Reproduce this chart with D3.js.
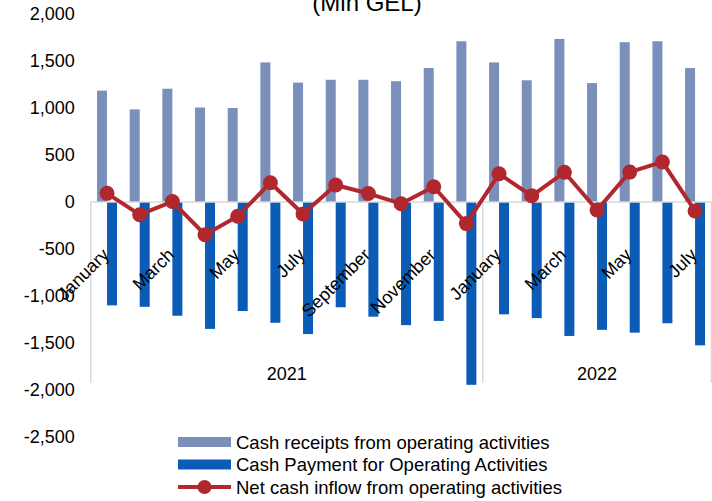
<!DOCTYPE html>
<html>
<head>
<meta charset="utf-8">
<script src="https://cdn.jsdelivr.net/npm/d3@7"></script>
<style>
  html, body { margin: 0; padding: 0; background: #ffffff; }
  svg { display: block; font-family: "Liberation Sans", Arial, sans-serif; }
</style>
</head>
<body>
<svg id="chart" width="712" height="501"></svg>
<script>
const months = ["January", "February", "March", "April", "May", "June", "July", "August",
    "September", "October", "November", "December",
    "January", "February", "March", "April", "May", "June", "July"];
const years = ["2021", "2022"];
const yearLengths = [12, 7];

const receipts = [1185, 985, 1205, 1005, 1000, 1485, 1270, 1300, 1300, 1285, 1425, 1710,
    1485, 1295, 1735, 1265, 1700, 1710, 1425];
const payments = [-1100, -1115, -1210, -1350, -1160, -1285, -1405, -1120, -1220, -1310, -1265, -1945,
    -1195, -1235, -1425, -1360, -1390, -1290, -1525];
const netInflow = [92, -135, 5, -348, -152, 205, -128, 181, 90, -18, 162, -230,
    300, 66, 316, -85, 318, 426, -95];

const yTicks = [2000, 1500, 1000, 500, 0, -500, -1000, -1500, -2000, -2500];

const seriesNames = ["Cash receipts from operating activities",
    "Cash Payment for Operating Activities",
    "Net cash inflow from operating activities"];

const colReceipts = "#7b8fbb";
const colPayments = "#0a5cb6";
const colNet = "#b0282d";
const gridGray = "#d9d9d9";

const svg = d3.select("#chart");

const plotLeft = 90.7, plotRight = 711.4;
const plotTop = 14, plotBottom = 437;

const x = d3.scaleBand()
    .domain(d3.range(months.length))
    .range([plotLeft, plotRight])
    .padding(0);

const sub = d3.scaleBand()
    .domain(["receipts", "payments"])
    .range([x.bandwidth() / 2 - 10, x.bandwidth() / 2 + 10]);

const y = d3.scaleLinear()
    .domain([-2500, 2000])
    .range([plotBottom, plotTop]);

// title (partly cut off at the top, as in the source)
svg.append("text")
    .attr("x", 367)
    .attr("y", 11)
    .attr("text-anchor", "middle")
    .attr("font-size", 24)
    .attr("fill", "#000")
    .text("(Mln GEL)");

// y axis labels
const yAxis = d3.axisLeft(y)
    .tickValues(yTicks)
    .tickSize(0)
    .tickPadding(16)
    .tickFormat(d => d3.format(",")(d).replace("\u2212", "-"));

svg.append("g")
    .attr("transform", `translate(${plotLeft},0)`)
    .call(yAxis)
    .call(g => g.select(".domain").remove())
    .call(g => g.selectAll("text")
        .attr("font-size", 18)
        .attr("font-family", "Liberation Sans, Arial, sans-serif")
        .attr("fill", "#000"));

// bars
const bars = svg.append("g");

bars.selectAll("rect.rec")
    .data(receipts)
    .enter()
    .append("rect")
    .attr("class", "rec")
    .attr("x", (d, i) => x(i) + sub("receipts"))
    .attr("width", sub.bandwidth())
    .attr("y", d => y(d))
    .attr("height", d => y(0) - y(d))
    .attr("fill", colReceipts);

bars.selectAll("rect.pay")
    .data(payments)
    .enter()
    .append("rect")
    .attr("class", "pay")
    .attr("x", (d, i) => x(i) + sub("payments"))
    .attr("width", sub.bandwidth())
    .attr("y", y(0))
    .attr("height", d => y(d) - y(0))
    .attr("fill", colPayments);

// category axis lines
const axisBottom = 383;
svg.append("line")
    .attr("x1", plotLeft)
    .attr("x2", plotRight)
    .attr("y1", y(0))
    .attr("y2", y(0))
    .attr("stroke", gridGray)
    .attr("stroke-width", 1.5);

const yearEdges = [0];
yearLengths.forEach(n => yearEdges.push(yearEdges[yearEdges.length - 1] + n));
const edgeX = i => i < months.length ? x(i) : plotRight;

svg.selectAll("line.sep")
    .data(yearEdges)
    .enter()
    .append("line")
    .attr("class", "sep")
    .attr("x1", d => edgeX(d))
    .attr("x2", d => edgeX(d))
    .attr("y1", y(0))
    .attr("y2", axisBottom)
    .attr("stroke", gridGray)
    .attr("stroke-width", 1.5);

// month labels, every second one
svg.selectAll("text.month")
    .data(months.map((m, i) => ({ m, i })).filter(d => d.i % 2 === 0))
    .enter()
    .append("text")
    .attr("class", "month")
    .attr("text-anchor", "end")
    .attr("font-size", 18)
    .attr("fill", "#000")
    .attr("transform", d => `translate(${x(d.i) + x.bandwidth() / 2 + 3},${256}) rotate(-45)`)
    .text(d => d.m);

// year labels
svg.selectAll("text.year")
    .data(years)
    .enter()
    .append("text")
    .attr("class", "year")
    .attr("text-anchor", "middle")
    .attr("font-size", 18)
    .attr("fill", "#000")
    .attr("x", (d, i) => (edgeX(yearEdges[i]) + edgeX(yearEdges[i + 1])) / 2)
    .attr("y", 380)
    .text(d => d);

// net cash inflow line
const line = d3.line()
    .x((d, i) => x(i) + x.bandwidth() / 2)
    .y(d => y(d));

svg.append("path")
    .datum(netInflow)
    .attr("d", line)
    .attr("fill", "none")
    .attr("stroke", colNet)
    .attr("stroke-width", 4)
    .attr("stroke-linejoin", "round");

svg.selectAll("circle.net")
    .data(netInflow)
    .enter()
    .append("circle")
    .attr("class", "net")
    .attr("cx", (d, i) => x(i) + x.bandwidth() / 2)
    .attr("cy", d => y(d))
    .attr("r", 7.5)
    .attr("fill", colNet);

// legend
const legend = svg.append("g").attr("transform", "translate(178,442)");
const rowH = 22.5;

legend.append("rect")
    .attr("x", 0).attr("y", -5).attr("width", 53).attr("height", 10)
    .attr("fill", colReceipts);

legend.append("rect")
    .attr("x", 0).attr("y", rowH - 5).attr("width", 53).attr("height", 10)
    .attr("fill", colPayments);

legend.append("line")
    .attr("x1", 0).attr("x2", 53)
    .attr("y1", rowH * 2).attr("y2", rowH * 2)
    .attr("stroke", colNet)
    .attr("stroke-width", 4);

legend.append("circle")
    .attr("cx", 26.5).attr("cy", rowH * 2).attr("r", 7)
    .attr("fill", colNet);

legend.selectAll("text")
    .data(seriesNames)
    .enter()
    .append("text")
    .attr("x", 58)
    .attr("y", (d, i) => i * rowH + 6.5)
    .attr("font-size", 18.5)
    .attr("fill", "#000")
    .text(d => d);
</script>
</body>
</html>
